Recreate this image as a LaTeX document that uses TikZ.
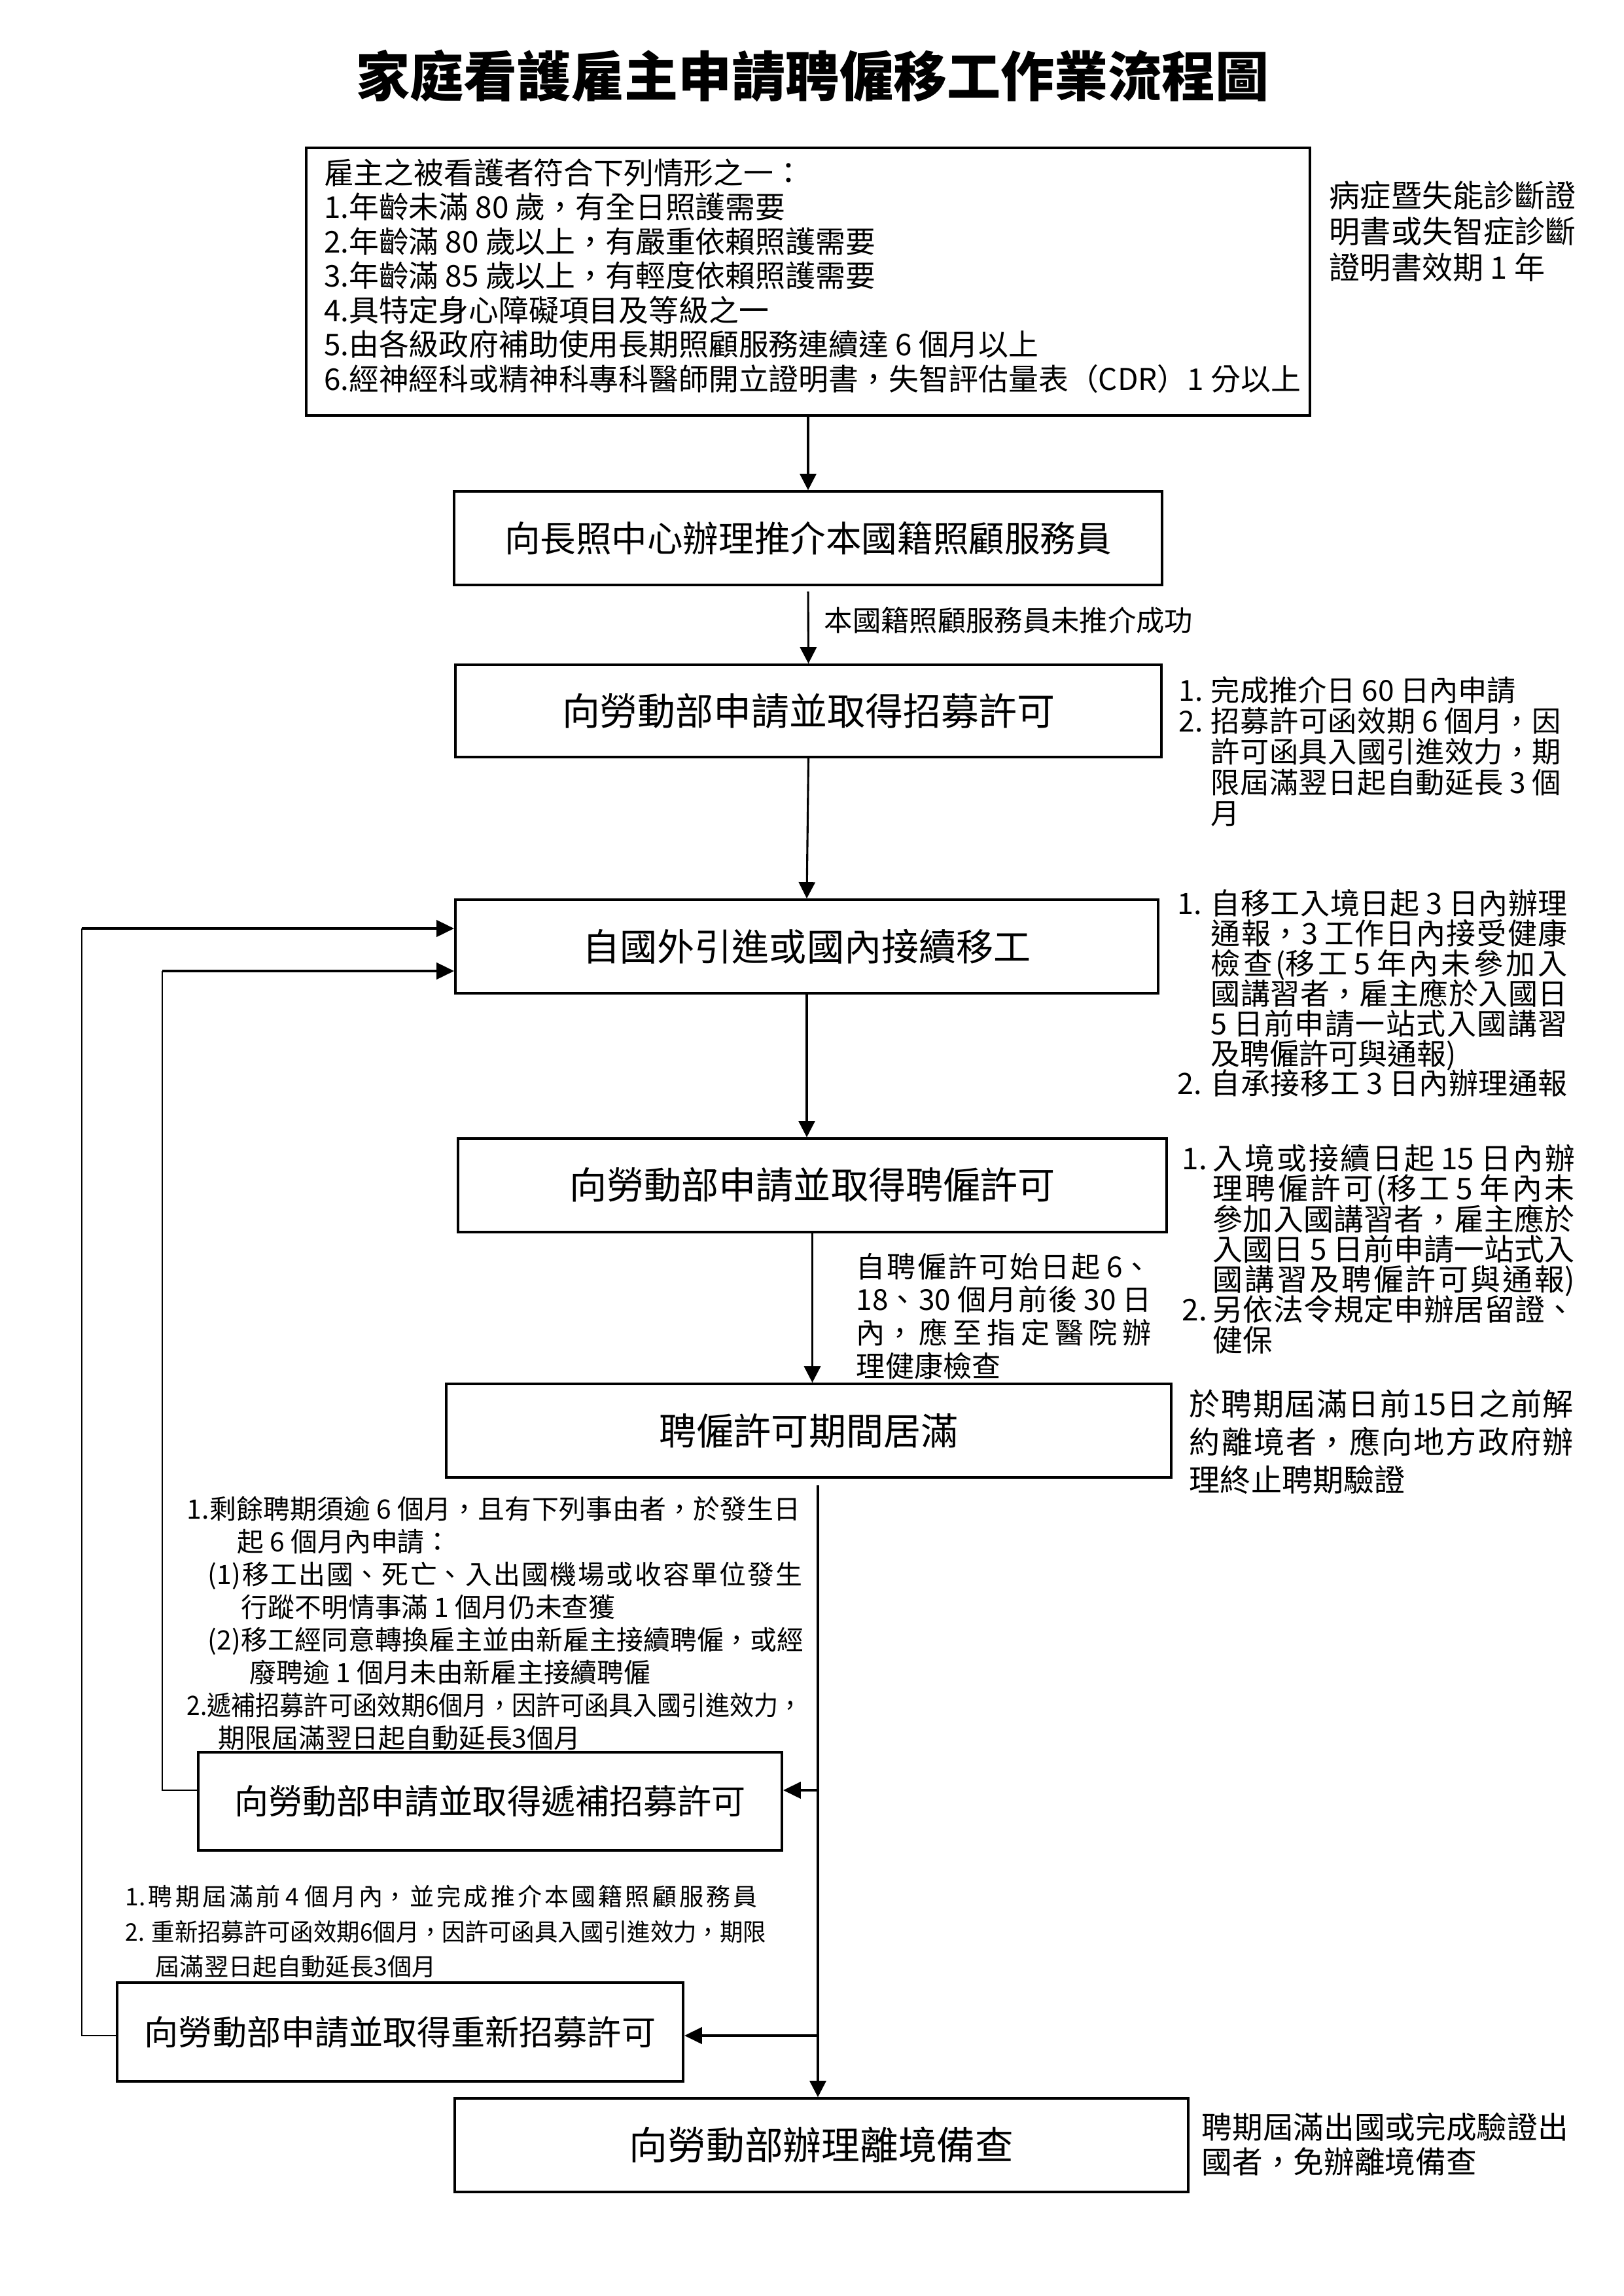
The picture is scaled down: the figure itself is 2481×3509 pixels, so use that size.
\documentclass[tikz,border=0pt]{standalone}
\usepackage{fontspec}
\setmainfont{Noto Sans CJK TC}
\usetikzlibrary{arrows.meta}
\XeTeXlinebreaklocale "zh"
\XeTeXlinebreakpenalty=10000
\newdimen\pxu \pxu=0.24pt
\newsavebox\jbox
\newcommand\fs[2]{\fontsize{#1pt}{#2pt}\selectfont\lineskiplimit=-1000pt\relax}
\newcommand\J[2]{\sbox\jbox{#2}\ifdim\wd\jbox>#1\pxu\relax\resizebox{#1\pxu}{\height}{\usebox\jbox}\else\parbox[t]{#1\pxu}{\XeTeXlinebreakskip=0pt plus 1fil\relax\parfillskip=0pt\relax\noindent#2\par}\fi}
\newcommand\nm[2]{\makebox[#1\pxu][l]{#2}}
\newcommand\ind[1]{\hspace*{#1\pxu}}
\def\P#1{#1*0.24pt}
\begin{document}
\begin{tikzpicture}[x=0.24pt,y=-0.24pt,
  box/.style={draw,line width=0.9pt,inner sep=0pt,align=center},
  arr/.style={-{Triangle[length=6pt,width=6pt]},line width=0.75pt},
  arrT/.style={-{Triangle[length=6.5pt,width=6pt]},line width=1.1pt},
  loopline/.style={line width=0.7pt},
  note/.style={inner sep=0pt,anchor=north west,align=left}]
\fill[white] (0,0) rectangle (2481,3509);
\useasboundingbox (0,0) rectangle (2481,3509);

\node[inner sep=0pt,font=\fs{19.7}{24}\bfseries] (title) at (1242,116) {家庭看護雇主申請聘僱移工作業流程圖};

% boxes
\node[box,minimum width=\P{1534},minimum height=\P{409},align=left,font=\fs{11}{12.6}] (B1) at (1235,430.5)
{雇主之被看護者符合下列情形之一：\\
1.年齡未滿 80 歲，有全日照護需要\\
2.年齡滿 80 歲以上，有嚴重依賴照護需要\\
3.年齡滿 85 歲以上，有輕度依賴照護需要\\
4.具特定身心障礙項目及等級之一\\
5.由各級政府補助使用長期照顧服務連續達 6 個月以上\\
\makebox[1480\pxu][l]{6.經神經科或精神科專科醫師開立證明書，失智評估量表（CDR）1 分以上}\rule[-22\pxu]{0pt}{0pt}};
\node[box,minimum width=\P{1082},minimum height=\P{143},font=\fs{13.1}{16}] (B2) at (1235,822.5) {向長照中心辦理推介本國籍照顧服務員};
\node[box,minimum width=\P{1079},minimum height=\P{141},font=\fs{13.9}{16}] (B3) at (1235.5,1086.5) {向勞動部申請並取得招募許可};
\node[box,minimum width=\P{1074},minimum height=\P{143},font=\fs{13.7}{16}] (B4) at (1233,1446.5) {自國外引進或國內接續移工};
\node[box,minimum width=\P{1083},minimum height=\P{143},font=\fs{13.7}{16}] (B5) at (1241.5,1811.5) {向勞動部申請並取得聘僱許可};
\node[box,minimum width=\P{1108},minimum height=\P{143},font=\fs{13.7}{16}] (B6) at (1236,2186.5) {聘僱許可期間居滿};
\node[box,minimum width=\P{892},minimum height=\P{150},font=\fs{12.5}{15}] (B7) at (749,2753) {向勞動部申請並取得遞補招募許可};
\node[box,minimum width=\P{865},minimum height=\P{151},font=\fs{12.5}{15}] (B8) at (611.5,3105.5) {向勞動部申請並取得重新招募許可};
\node[box,minimum width=\P{1121},minimum height=\P{143},font=\fs{14.1}{16}] (B9) at (1255.5,3278.5) {向勞動部辦理離境備查};

% side notes
\node[note,font=\fs{11.3}{13.2}] (N1) at (2031,276) {病症暨失能診斷證\\明書或失智症診斷\\證明書效期 1 年};
\node[inner sep=0pt,anchor=west,font=\fs{10.4}{12}] (L2) at (1259,948) {本國籍照顧服務員未推介成功};
\node[note,font=\fs{10.6}{11.3}] (N3) at (1801,1033)
{\nm{49}{1.}完成推介日 60 日內申請\\
\nm{49}{2.}\J{535}{招募許可函效期 6 個月，因}\\
\ind{49}\J{535}{許可函具入國引進效力，期}\\
\ind{49}\J{535}{限屆滿翌日起自動延長 3 個}\\
\ind{49}月};
\node[note,font=\fs{10.8}{11}] (N4) at (1799,1359)
{\nm{51}{1.}\J{545}{自移工入境日起 3 日內辦理}\\
\ind{51}\J{545}{通報，3 工作日內接受健康}\\
\ind{51}\J{545}{檢查(移工 5 年內未參加入}\\
\ind{51}\J{545}{國講習者，雇主應於入國日}\\
\ind{51}\J{545}{5 日前申請一站式入國講習}\\
\ind{51}及聘僱許可與通報)\\
\nm{51}{2.}\J{545}{自承接移工 3 日內辦理通報}};
\node[note,font=\fs{11}{11.1}] (N5) at (1806,1748)
{\nm{47}{1.}\J{553}{入境或接續日起 15 日內辦}\\
\ind{47}\J{553}{理聘僱許可(移工 5 年內未}\\
\ind{47}\J{553}{參加入國講習者，雇主應於}\\
\ind{47}\J{553}{入國日 5 日前申請一站式入}\\
\ind{47}\J{553}{國講習及聘僱許可與通報)}\\
\nm{47}{2.}\J{553}{另依法令規定申辦居留證、}\\
\ind{47}健保};
\node[note,font=\fs{10.6}{12.2}] (L5) at (1308,1914)
{\J{451}{自聘僱許可始日起 6、}\\
\J{451}{18、30 個月前後 30 日}\\
\J{451}{內，應至指定醫院辦}\\
理健康檢查};
\node[note,font=\fs{11.3}{13.9}] (N6) at (1817,2123)
{\J{587}{於聘期屆滿日前15日之前解}\\
\J{587}{約離境者，應向地方政府辦}\\
理終止聘期驗證};
\node[note,font=\fs{9.8}{12}] (L7) at (285,2286)
{\J{938}{1.剩餘聘期須逾 6 個月，且有下列事由者，於發生日}\\
\ind{77}起 6 個月內申請：\\
\ind{32}\J{909}{(1)移工出國、死亡、入出國機場或收容單位發生}\\
\ind{83}行蹤不明情事滿 1 個月仍未查獲\\
\ind{32}\J{911}{(2)移工經同意轉換雇主並由新雇主接續聘僱，或經}\\
\ind{96}廢聘逾 1 個月未由新雇主接續聘僱\\
\J{941}{2.遞補招募許可函效期6個月，因許可函具入國引進效力，}\\
\ind{48}期限屆滿翌日起自動延長3個月};
\node[note,font=\fs{8.9}{12.9}] (L8) at (191,2880)
{\J{966}{1.聘期屆滿前 4 個月內，並完成推介本國籍照顧服務員}\\
\J{979}{2. 重新招募許可函效期6個月，因許可函具入國引進效力，期限}\\
\ind{46}屆滿翌日起自動延長3個月};
\node[note,font=\fs{11.2}{12.7}] (N9) at (1836,3228) {聘期屆滿出國或完成驗證出\\國者，免辦離境備查};

% main flow
\draw[arr] (B1.south) -- (B2.north);
\draw[arr,shorten <=2pt] (B2.south) -- (B3.north);
\draw[arr] (B3.south) -- (B4.north);
\draw[arr] (B4.south) -- (B4.south |- B5.north);
\draw[arr] (B5.south) -- (B5.south |- B6.north);

% trunk from B6
\coordinate (T) at (1250,2270);
\coordinate (J7) at (1250,2736);
\coordinate (J8) at (1250,3111);
\draw[arr] (T) -- (T |- B9.north);
\draw[arrT] (J7) -- (J7 -| B7.east);
\draw[arrT] (J8) -- (J8 -| B8.east);

% loops back to B4
\coordinate (P7a) at (248,2736);
\coordinate (P7b) at (248,1484);
\coordinate (P8a) at (125,3111);
\coordinate (P8b) at (125,1419);
\draw[loopline] (P7a -| B7.west) -- (P7a) -- (P7b);
\draw[arrT] (P7b) -- (P7b -| B4.west);
\draw[loopline] (P8a -| B8.west) -- (P8a) -- (P8b);
\draw[arrT] (P8b) -- (P8b -| B4.west);
\end{tikzpicture}
\end{document}
